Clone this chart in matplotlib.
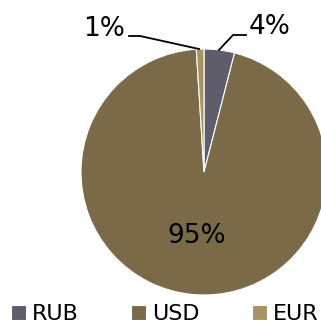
import matplotlib
matplotlib.use("Agg")
import matplotlib.pyplot as plt

currencies = ["RUB", "USD", "EUR"]
shares = [4, 95, 1]
colors = ["#5f5d6b", "#7a6a47", "#a89462"]

W, H = 321, 327
fig = plt.figure(figsize=(W / 100, H / 100), dpi=100)
ax = fig.add_axes([0, 0, 1, 1])

cx, cy, r = 204, H - 172, 123
wedges, _ = ax.pie(shares, colors=colors, startangle=90, counterclock=False,
                   center=(cx, cy), radius=r,
                   wedgeprops=dict(edgecolor="white", linewidth=0.8))
ax.set_xlim(0, W)
ax.set_ylim(0, H)
ax.set_aspect("equal")
ax.axis("off")

font = dict(family="DejaVu Sans", fontsize=19, color="black")
# USD label inside the slice
ax.text(197, H - 236, f"{shares[1]}%", ha="center", va="center", **font)
# RUB label with leader line
ax.plot([219, 233, 246], [H - 50, H - 35, H - 35], color="black", lw=1.3)
ax.text(249, H - 27, f"{shares[0]}%", ha="left", va="center", **font)
# EUR label with leader line
ax.plot([199, 140, 129], [H - 49, H - 36, H - 36], color="black", lw=1.3)
ax.text(125, H - 29, f"{shares[2]}%", ha="right", va="center", **font)

ax.legend(wedges, currencies, loc="center", bbox_to_anchor=(165 / W, (H - 314) / H),
          ncol=3, frameon=False, prop=dict(family="DejaVu Sans", size=16),
          handlelength=0.65, handleheight=0.65, handletextpad=0.3,
          columnspacing=2.35, borderaxespad=0, borderpad=0)

fig.savefig("out.png", dpi=100)
